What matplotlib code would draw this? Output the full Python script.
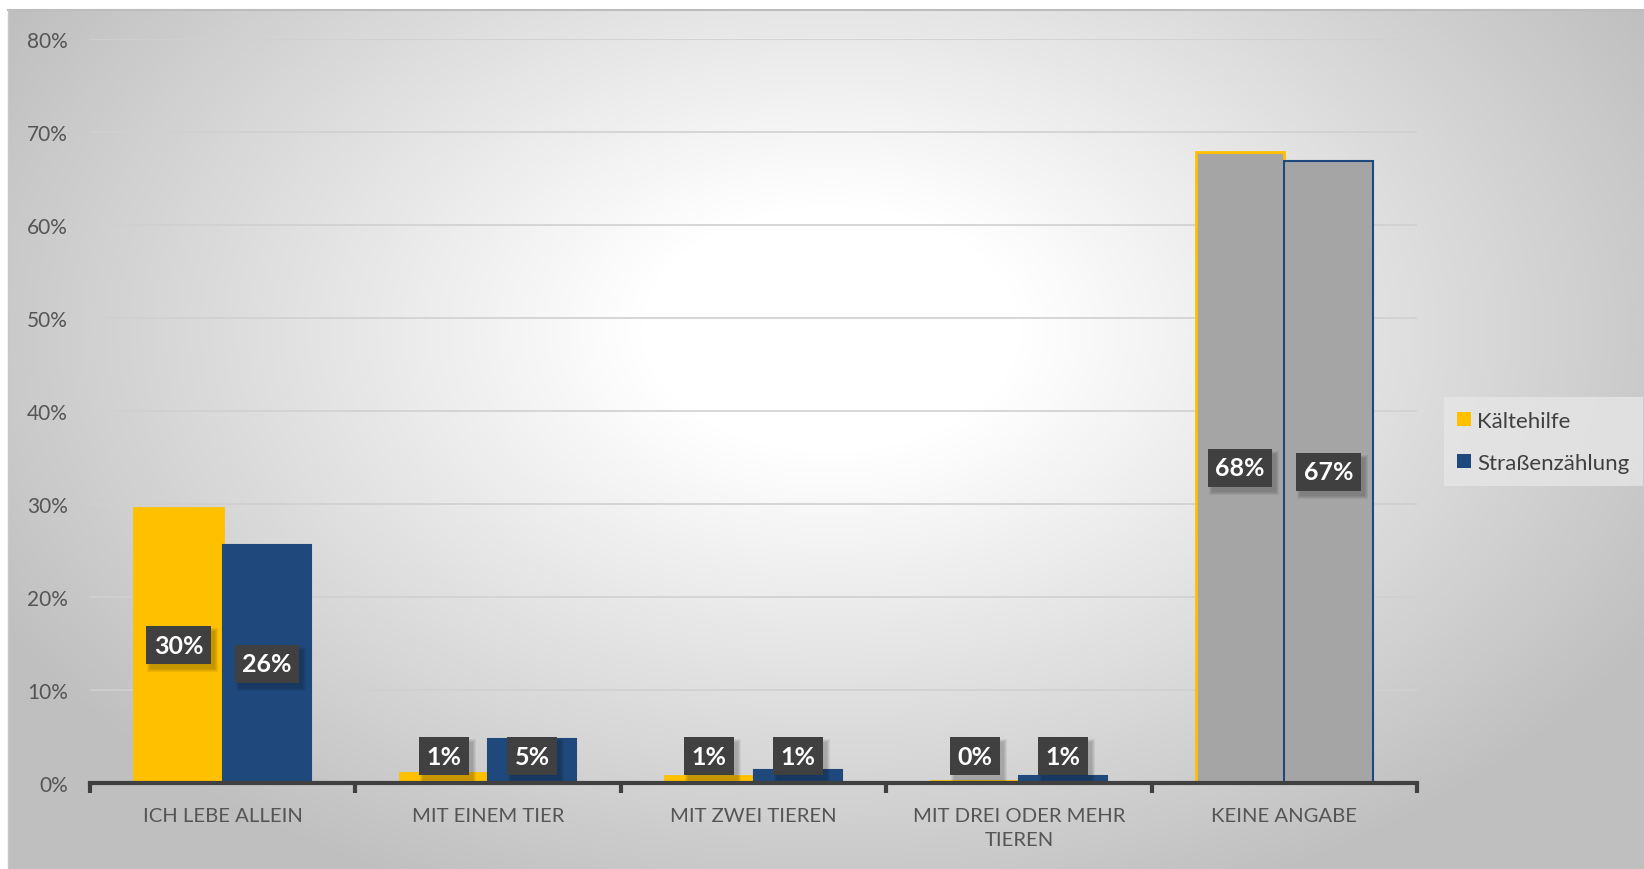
import numpy as np
import matplotlib
matplotlib.use('Agg')
import matplotlib.pyplot as plt
from matplotlib.patches import Patch, Rectangle
from matplotlib.transforms import IdentityTransform

plt.rcParams['font.family'] = ['Lato', 'DejaVu Sans']
plt.rcParams['hatch.color'] = '#5c5c5c'
plt.rcParams['hatch.linewidth'] = 1.5

categories = ['ICH LEBE ALLEIN', 'MIT EINEM TIER', 'MIT ZWEI TIEREN',
              'MIT DREI ODER MEHR\nTIEREN', 'KEINE ANGABE']
series_names = ['Kältehilfe', 'Straßenzählung']
kaeltehilfe = [29.6, 1.1, 0.8, 0.2, 67.8]
strassen = [25.6, 4.7, 1.35, 0.7, 66.9]
labels_k = ['30%', '1%', '1%', '0%', '68%']
labels_s = ['26%', '5%', '1%', '1%', '67%']
yticks = [0, 10, 20, 30, 40, 50, 60, 70, 80]

yellow = '#FFC000'
blue = '#1F497D'
grey_bar = '#A5A5A5'

W, H = 1644, 870
fig = plt.figure(figsize=(W / 100, H / 100), dpi=100)

# radial gradient background
bg = fig.add_axes([0, 0, 1, 1])
yy, xx = np.mgrid[0:H, 0:W]
r = np.sqrt(((xx - 830) / 950.0) ** 2 + ((yy - 330) / 620.0) ** 2)
val = 255 - 64 * np.clip((r - 0.2) / 0.8, 0, 1) ** 1.0
val = np.clip(val, 188, 255)
img = np.dstack([val, val, val]) / 255.0
img[:11, :, :] = 1.0
img[:, :8, :] = 1.0
bg.imshow(img, extent=[0, W, H, 0], aspect='auto')
bg.plot([8, W], [11, 11], color='#bdbdbd', lw=1.5)
bg.plot([8, 8], [11, H], color='#c8c8c8', lw=1)
bg.set_xlim(0, W)
bg.set_ylim(H, 0)
bg.axis('off')

ax = fig.add_axes([90 / W, 86 / H, (1417 - 90) / W, (784 - 40) / H])
ax.patch.set_alpha(0)

x = np.arange(len(categories))
w = 0.333
face_k = [yellow] * 4 + [grey_bar]
face_s = [blue] * 4 + [grey_bar]
ax.bar(x - w / 2, kaeltehilfe, w, color=face_k, edgecolor=yellow, linewidth=2, zorder=3)
ax.bar(x + w / 2, strassen, w, color=face_s, edgecolor=blue, linewidth=1.5, zorder=3)

value_texts = []
for xs, vals, labs in [(x - w / 2, kaeltehilfe, labels_k), (x + w / 2, strassen, labels_s)]:
    for xi, v, lab in zip(xs, vals, labs):
        yc = max(v / 2, 2.9)
        t = ax.text(xi, yc, lab, ha='center', va='center', fontsize=18, fontweight='bold',
                    color='white', zorder=5,
                    bbox=dict(boxstyle='square,pad=0.3', fc='#404040', ec='none', hatch='.'))
        value_texts.append(t)

ax.set_xlim(-0.5, 4.5)
ax.set_ylim(0, 80)
ax.set_yticks(yticks)
ax.set_yticklabels([f'{t}%' for t in yticks], fontsize=15, color='#555555')
ax.set_xticks(x)
ax.set_xticklabels(categories, fontsize=14.6, color='#555555', linespacing=1.55)
ax.set_xticks(np.arange(-0.5, 5, 1), minor=True)
ax.tick_params(axis='x', which='major', length=0, pad=17)
ax.tick_params(axis='x', which='minor', length=7, width=3, color='#404040')
ax.tick_params(axis='y', length=0, pad=16)
ax.yaxis.grid(True, color='#d0d0d0', linewidth=1.2, zorder=0)
ax.set_axisbelow(True)
for s in ['top', 'right', 'left']:
    ax.spines[s].set_visible(False)
ax.spines['bottom'].set_color('#404040')
ax.spines['bottom'].set_linewidth(3)
ax.spines['bottom'].set_zorder(6)

handles = [Patch(facecolor=yellow, edgecolor='none'), Patch(facecolor=blue, edgecolor='none')]
leg = fig.legend(handles, series_names, loc='center left', bbox_to_anchor=(1444 / W, 0.491),
                 fontsize=16, frameon=True, fancybox=False, handlelength=0.6, handleheight=0.6,
                 handletextpad=0.3, labelspacing=1.0, borderpad=0.6, borderaxespad=0)
leg.get_frame().set_facecolor('#e6e6e6')
leg.get_frame().set_edgecolor('none')
for t in leg.get_texts():
    t.set_color('#404040')

# soft drop shadows behind the value boxes
fig.canvas.draw()
for t in value_texts:
    bb = t.get_bbox_patch().get_window_extent()
    for grow in [0, 2, 4, 6]:
        ax.add_patch(Rectangle((bb.x0 + 4 - grow / 2, bb.y0 - 5 - grow / 2), bb.width + grow, bb.height + grow,
                               transform=IdentityTransform(), facecolor='black', edgecolor='none',
                               alpha=0.06, zorder=4))

fig.savefig('out.png', dpi=100)
